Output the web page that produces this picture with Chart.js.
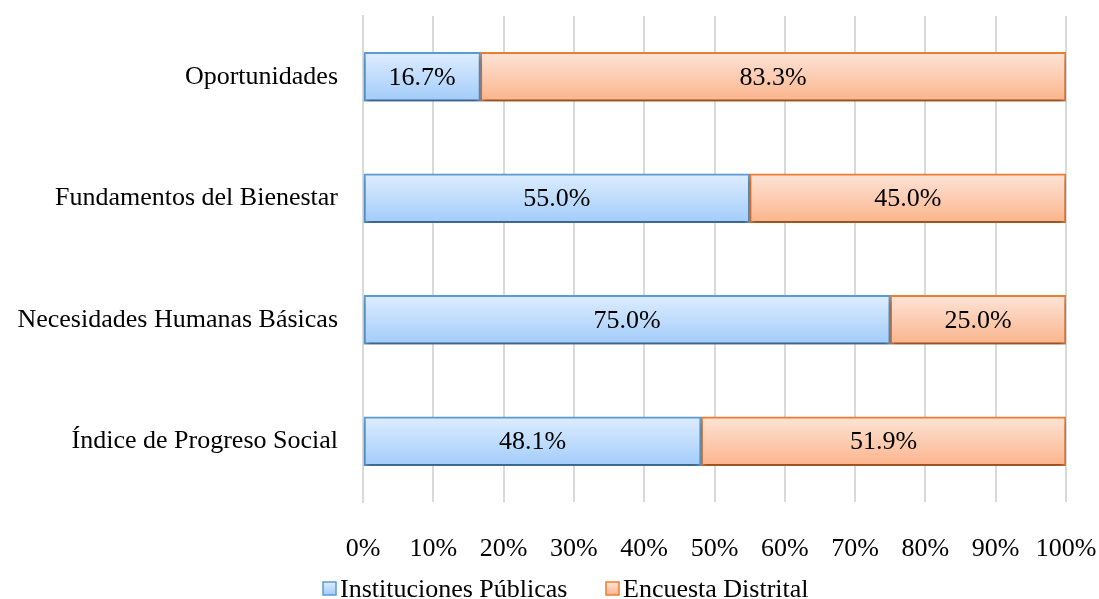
<!DOCTYPE html>
<html>
<head>
<meta charset="utf-8">
<script src="https://cdn.jsdelivr.net/npm/chart.js@4/dist/chart.umd.min.js"></script>
<style>
html,body{margin:0;padding:0;background:#fff;}
#wrap{width:1099px;height:599px;position:relative;}
</style>
</head>
<body>
<div id="wrap"><canvas id="c" width="1099" height="599"></canvas></div>
<script>
const categories = ["Oportunidades", "Fundamentos del Bienestar", "Necesidades Humanas Básicas", "Índice de Progreso Social"];
const seriesNames = ["Instituciones Públicas", "Encuesta Distrital"];
const institucionesPublicas = [16.7, 55.0, 75.0, 48.1];
const encuestaDistrital = [83.3, 45.0, 25.0, 51.9];
const xTicks = [0, 10, 20, 30, 40, 50, 60, 70, 80, 90, 100];

const FONT = "'Liberation Serif', 'Times New Roman', serif";
const FS = 26;
const BAR_T = 49;

function grad(top, bottom) {
  return function(ctx) {
    const chart = ctx.chart;
    const ys = chart.scales.y;
    if (!ys || ctx.dataIndex === undefined) return bottom;
    const y = ys.getPixelForValue(ctx.dataIndex);
    if (!isFinite(y)) return bottom;
    const g = chart.ctx.createLinearGradient(0, y - BAR_T / 2, 0, y + BAR_T / 2);
    g.addColorStop(0, top);
    g.addColorStop(1, bottom);
    return g;
  };
}

const labelPlugin = {
  id: 'segLabels',
  beforeDatasetsDraw(chart) {
    const c = chart.ctx;
    c.save();
    c.shadowColor = 'rgba(0,0,0,0.4)';
    c.shadowBlur = 5;
    c.shadowOffsetY = 4;
  },
  afterDatasetsDraw(chart) {
    const c = chart.ctx;
    c.restore();
    c.save();
    c.font = FS + "px " + FONT;
    c.fillStyle = '#000';
    c.textAlign = 'center';
    c.textBaseline = 'middle';
    chart.data.datasets.forEach((ds, di) => {
      const meta = chart.getDatasetMeta(di);
      meta.data.forEach((el, i) => {
        const v = ds.data[i];
        const cx = (el.x + el.base) / 2;
        c.fillText(v.toFixed(1) + '%', cx, el.y + 1);
      });
    });
    c.restore();
  },
  afterDraw(chart) {
    const c = chart.ctx;
    c.save();
    c.font = FS + "px " + FONT;
    c.textBaseline = 'alphabetic';
    c.textAlign = 'left';
    const items = [
      { text: seriesNames[0], fill: ['#deedfe', '#a2ccfa'], stroke: '#5b9bd5', x: 323 },
      { text: seriesNames[1], fill: ['#fde4d7', '#fbb48c'], stroke: '#ed7d31', x: 606 }
    ];
    const boxTop = 582, base = 597;
    items.forEach(it => {
      const g = c.createLinearGradient(0, boxTop, 0, boxTop + 13);
      g.addColorStop(0, it.fill[0]);
      g.addColorStop(1, it.fill[1]);
      c.fillStyle = g;
      c.fillRect(it.x, boxTop, 13, 13);
      c.strokeStyle = it.stroke;
      c.lineWidth = 1.5;
      c.strokeRect(it.x, boxTop, 13, 13);
      c.fillStyle = '#000';
      c.fillText(it.text, it.x + 17, base);
    });
    c.restore();
  }
};

new Chart(document.getElementById('c'), {
  type: 'bar',
  data: {
    labels: categories,
    datasets: [
      {
        label: seriesNames[0],
        data: institucionesPublicas,
        backgroundColor: grad('#deedfe', '#a2ccfa'),
        borderColor: '#5b9bd5',
        borderWidth: 2,
        borderSkipped: false,
        barThickness: BAR_T
      },
      {
        label: seriesNames[1],
        data: encuestaDistrital,
        backgroundColor: grad('#fde4d7', '#fbb48c'),
        borderColor: '#ed7d31',
        borderWidth: 2,
        borderSkipped: false,
        barThickness: BAR_T
      }
    ]
  },
  options: {
    indexAxis: 'y',
    responsive: false,
    animation: false,
    devicePixelRatio: 1,
    layout: { autoPadding: false, padding: { top: 16, right: 33, left: 0, bottom: 17 } },
    scales: {
      x: {
        stacked: true,
        min: 0,
        max: 100,
        afterBuildTicks(scale) { scale.ticks = xTicks.map(v => ({ value: v })); },
        afterFit(scale) {
          scale.height = 80;
          scale.paddingLeft = 0; scale.paddingRight = 0; scale.paddingTop = 0; scale.paddingBottom = 0;
        },
        ticks: {
          callback: v => v + '%',
          color: '#000',
          font: { family: FONT, size: FS },
          padding: 32,
          maxRotation: 0
        },
        grid: { color: '#d9d9d9', lineWidth: 2, drawTicks: false },
        border: { display: false }
      },
      y: {
        stacked: true,
        afterFit(scale) {
          scale.width = 363;
          scale.paddingLeft = 0; scale.paddingRight = 0; scale.paddingTop = 0; scale.paddingBottom = 0;
        },
        ticks: {
          color: '#000',
          font: { family: FONT, size: FS },
          padding: 25
        },
        grid: { display: false, drawTicks: false },
        border: { display: true, color: '#d9d9d9', width: 2 }
      }
    },
    plugins: {
      legend: { display: false },
      tooltip: { enabled: false }
    }
  },
  plugins: [labelPlugin]
});
</script>
</body>
</html>
